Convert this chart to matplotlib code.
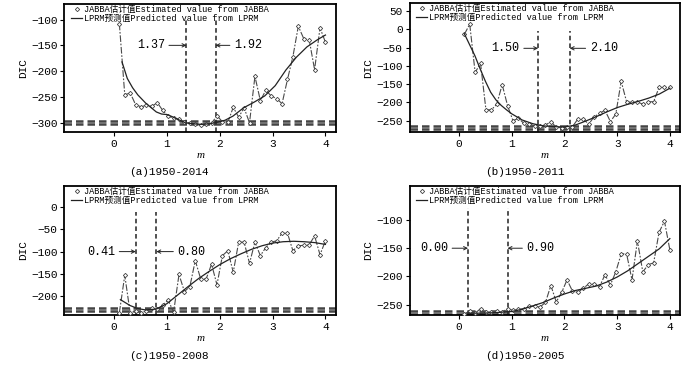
import numpy as np
import matplotlib
matplotlib.use("Agg")
import matplotlib.pyplot as plt
from matplotlib.lines import Line2D

plt.rcParams['font.family'] = ['Liberation Mono', 'Noto Sans CJK SC']
plt.rcParams['axes.unicode_minus'] = True

# ---- data ----
m = np.round(np.linspace(0.1, 4.0, 39), 4)

jabba_a = [-108, -246, -242, -265, -269, -266, -268, -261, -276, -287, -291, -293, -299,
           -300, -302, -304, -303, -301, -286, -298, -299, -270, -289, -271, -300, -210,
           -257, -237, -248, -253, -263, -216, -172, -113, -137, -139, -197, -116, -144]
jabba_b = [-14, 14, -118, -93, -220, -220, -205, -151, -209, -250, -243, -257, -259,
           -264, -264, -262, -252, -268, -269, -267, -266, -245, -246, -259, -239, -230,
           -221, -252, -232, -142, -198, -200, -198, -205, -198, -198, -159, -159, -159]
jabba_c = [-236, -153, -237, -232, -236, -232, -225, -229, -219, -208, -235, -151, -189,
           -178, -120, -161, -161, -128, -174, -109, -98, -146, -79, -79, -126, -79,
           -109, -91, -79, -76, -59, -59, -98, -87, -86, -85, -65, -107, -76]
jabba_d = [-266, -262, -265, -257, -263, -263, -262, -263, -257, -260, -258, -257, -253,
           -253, -254, -246, -216, -245, -228, -206, -226, -228, -221, -213, -213, -218,
           -197, -215, -192, -160, -160, -206, -137, -192, -179, -176, -122, -102, -153]

lprm_m_a = [0.15, 0.25, 0.35, 0.45, 0.6, 0.8, 0.9, 1.0, 1.1, 1.2, 1.35, 1.5, 1.65, 1.8,
            1.95, 2.1, 2.25, 2.45, 2.65, 2.85, 3.05, 3.25, 3.45, 3.65, 3.85, 4.0]
lprm_a = [-182, -214, -232, -246, -262, -279, -283, -284, -288, -293, -300, -302, -303,
          -302, -299, -295, -287, -271, -260, -248, -228, -198, -173, -153, -139, -130]
lprm_m_b = [0.1, 0.2, 0.3, 0.4, 0.5, 0.6, 0.7, 0.8, 0.9, 1.0, 1.2, 1.4, 1.6, 1.8, 2.0,
            2.2, 2.4, 2.6, 2.8, 3.0, 3.2, 3.4, 3.6, 3.8, 4.0]
lprm_b = [-12, -42, -72, -108, -142, -172, -193, -208, -220, -231, -248, -258, -264,
          -266, -267, -262, -251, -239, -226, -214, -205, -197, -188, -177, -161]
lprm_m_c = [0.12, 0.3, 0.45, 0.6, 0.8, 1.0, 1.2, 1.4, 1.6, 1.8, 2.0, 2.2, 2.4, 2.6, 2.8,
            3.0, 3.2, 3.4, 3.6, 3.8, 4.0]
lprm_c = [-207, -220, -227, -230, -228, -216, -197, -178, -160, -144, -129, -116, -105,
          -95, -87, -81, -78, -77, -78, -80, -84]
lprm_m_d = [0.15, 0.4, 0.7, 1.0, 1.2, 1.4, 1.6, 1.8, 2.0, 2.2, 2.4, 2.6, 2.8, 3.0, 3.2,
            3.4, 3.6, 3.8, 4.0]
lprm_d = [-265, -265, -264, -262, -258, -252, -246, -238, -231, -225, -221, -217, -210,
          -201, -190, -177, -164, -151, -133]

captions = ["(a)1950-2014", "(b)1950-2011", "(c)1950-2008", "(d)1950-2005"]
bound_labels = [["1.37", "1.92"], ["1.50", "2.10"], ["0.41", "0.80"], ["0.00", "0.90"]]
bound_pos = [[1.37, 1.92], [1.50, 2.10], [0.41, 0.80], [0.17, 0.92]]
hline_vals = [[-297, -302], [-264, -272], [-226, -232], [-262, -266]]
vline_top = [-101, -4, -11, -79]
arrow_y = [-150, -52, -100, -150]
ylims = [(-318, -70), (-282, 71), (-241, 46), (-268, -40)]
yticks = [[-300, -250, -200, -150, -100], [-250, -200, -150, -100, -50, 0, 50],
          [-200, -150, -100, -50, 0], [-250, -200, -150, -100]]
xticks = [0, 1, 2, 3, 4]
jabba = [jabba_a, jabba_b, jabba_c, jabba_d]
lprm_m = [lprm_m_a, lprm_m_b, lprm_m_c, lprm_m_d]
lprm = [lprm_a, lprm_b, lprm_c, lprm_d]
left_text_x = [0.96, 1.15, 0.02, -0.21]
right_text_x = [2.27, 2.48, 1.20, 1.28]

leg_labels = ["JABBA估计值Estimated value from JABBA", "LPRM预测值Predicted value from LPRM"]

fig = plt.figure(figsize=(7.0, 3.67), dpi=100)
positions = [
    [0.092, 0.640, 0.388, 0.349],
    [0.585, 0.639, 0.387, 0.352],
    [0.092, 0.142, 0.388, 0.351],
    [0.585, 0.142, 0.387, 0.351],
]
cap_pos = [(0.241, 0.530), (0.75, 0.530), (0.241, 0.030), (0.75, 0.030)]
xlab_y = [0.577, 0.577, 0.078, 0.078]

for i in range(4):
    ax = fig.add_axes(positions[i])
    ax.set_xlim(-0.94, 4.2)
    ax.set_ylim(*ylims[i])
    for hv in hline_vals[i]:
        ax.axhline(hv, color='#444444', lw=1.8, ls=(0, (3.0, 1.6)), zorder=2)
    for bp in bound_pos[i]:
        ax.plot([bp, bp], [ylims[i][0], vline_top[i]], color='#222222', lw=1.1,
                ls=(0, (3.0, 2.0)), zorder=2)
    ax.plot(m, jabba[i], color='#4a4a4a', lw=0.8, ls=(0, (6, 1.5, 1.5, 1.5)),
            marker='D', ms=2.2, mfc='white', mec='#444444', mew=0.6, zorder=3)
    ax.plot(lprm_m[i], lprm[i], color='#222222', lw=0.9, zorder=4)

    ax.annotate(bound_labels[i][0], xy=(bound_pos[i][0], arrow_y[i]),
                xytext=(left_text_x[i], arrow_y[i]), ha='right', va='center', fontsize=8.5,
                arrowprops=dict(arrowstyle='->', lw=0.7, color='#222222', shrinkA=1, shrinkB=0,
                                mutation_scale=6))
    ax.annotate(bound_labels[i][1], xy=(bound_pos[i][1], arrow_y[i]),
                xytext=(right_text_x[i], arrow_y[i]), ha='left', va='center', fontsize=8.5,
                arrowprops=dict(arrowstyle='->', lw=0.7, color='#222222', shrinkA=1, shrinkB=0,
                                mutation_scale=6))

    ax.set_xticks(xticks)
    ax.set_yticks(yticks[i])
    ax.tick_params(direction='out', length=3, width=0.8, labelsize=8, pad=2)
    for s in ax.spines.values():
        s.set_linewidth(1.3)
    ax.set_ylabel("DIC", fontsize=8, labelpad=2)

    handles = [Line2D([], [], ls='none', marker='D', ms=2.2, mfc='white', mec='#444444', mew=0.6),
               Line2D([], [], color='#222222', lw=0.9)]
    ax.legend(handles, leg_labels, loc='upper left', bbox_to_anchor=(0.025, 0.995),
              frameon=False, fontsize=6.2, handlelength=1.3, handletextpad=0.2,
              labelspacing=0.05, borderaxespad=0.0, borderpad=0.0)

    fig.text(positions[i][0] + positions[i][2] * 0.5, xlab_y[i], "m", style='italic',
             fontsize=8, ha='center', va='center', family=['Liberation Serif'])
    fig.text(cap_pos[i][0], cap_pos[i][1], captions[i], fontsize=8, ha='center', va='center')

fig.savefig("out.png", dpi=100)
